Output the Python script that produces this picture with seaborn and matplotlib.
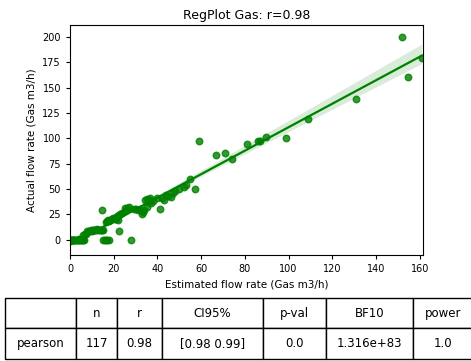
import numpy as np
import pandas as pd
import seaborn as sns
import matplotlib
matplotlib.use("Agg")
import matplotlib.pyplot as plt

# estimated vs actual gas flow
estimated = [0, 0, 0.5, 1, 1, 1.5, 2, 2, 2.5, 3, 3, 3.5, 4, 4, 4.5, 5, 5, 5.5, 6, 6.5,
             6, 7, 7.5, 8, 8.5, 9, 9.5, 10, 10.5, 11, 11.5, 12, 12.5, 13, 13.5, 14, 14.5, 15,
             15, 16, 16.5, 17, 18, 16.5, 17, 17.5, 18, 18.5, 19, 19.5, 20, 20.5, 21, 21.5,
             22, 22.5, 22.5, 23, 24, 25, 25, 26, 27, 28, 14.5, 29.5, 30, 31, 32, 33, 33.5,
             34, 35, 35.5, 35, 36, 36.5, 34.5, 37, 38, 40, 41, 42, 43, 44, 45, 46, 47, 48,
             50, 52, 53, 55, 57, 59, 67, 71, 74, 81, 86, 87, 89.5, 99, 109, 131, 152, 154.5, 161]
actual = [0, 0, 0, 0, 0, 0, 0, 0, 0, 0, 0, 0, 0, 1, 0, 0, 1, 0, 0, 0,
          5, 6, 6, 9, 9, 9, 10, 9, 10, 10, 10, 10, 11, 10, 10, 10, 10, 10,
          0, 0, 0, 0, 0, 18, 19, 20, 19, 20, 21, 22, 21, 22, 21, 23,
          20, 9, 24, 25, 26, 28, 31, 31, 32, 0, 29, 30, 30, 29, 30, 25, 27,
          29, 32, 37, 40, 39, 41, 39, 36, 38, 41, 30, 41, 39, 44, 43, 42, 46, 48,
          50, 52, 54, 60, 50, 98, 84, 86, 80, 95, 98, 98, 101, 100, 119, 139, 200, 161, 179]

df = pd.DataFrame({"est": estimated, "act": actual})

# stats table contents
col_names = ["", "n", "r", "CI95%", "p-val", "BF10", "power"]
row_vals = ["pearson", "117", "0.98", "[0.98 0.99]", "0.0", "1.316e+83", "1.0"]

fig, ax = plt.subplots(figsize=(4.71, 3.61), dpi=100)
fig.subplots_adjust(left=70/471, right=423/471, top=1-25/361, bottom=1-255/361)

sns.regplot(x="est", y="act", data=df, color="green", ax=ax,
            scatter_kws={"s": 22}, line_kws={"lw": 1.6})

ax.set_xlim(0, 161.5)
ax.set_ylim(-15, 212)
ax.set_xticks(range(0, 161, 20))
ax.set_yticks(range(0, 201, 25))
ax.tick_params(labelsize=7, length=3)
ax.set_xlabel("Estimated flow rate (Gas m3/h)", fontsize=7.5)
ax.set_ylabel("Actual flow rate (Gas m3/h)", fontsize=7.5)
ax.set_title("RegPlot Gas: r=0.98", fontsize=9, pad=4)

tbl = ax.table(cellText=[col_names, row_vals], cellLoc="center",
               colWidths=[71, 41, 45, 101, 63, 87, 60],
               bbox=[-0.184, -0.452, 1.326, 0.265])
tbl.auto_set_font_size(False)
tbl.set_fontsize(8.5)

plt.savefig("out.png", dpi=100)
